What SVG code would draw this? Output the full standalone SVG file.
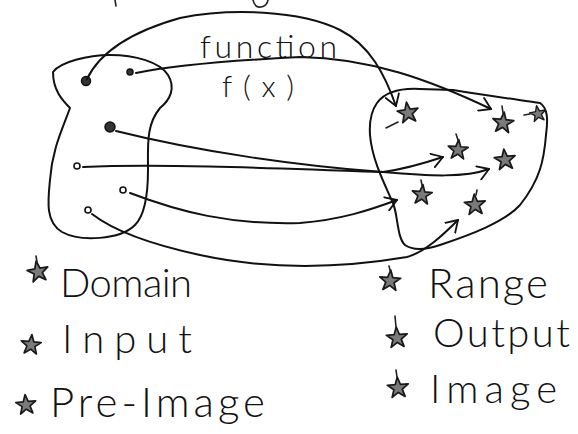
<svg xmlns="http://www.w3.org/2000/svg" width="578" height="434" viewBox="0 0 578 434">
<style>
.ink{fill:none;stroke:#111;stroke-width:2;stroke-linecap:round;stroke-linejoin:round}
.thin{fill:none;stroke:#222;stroke-width:1.6;stroke-linecap:round}
.dot{fill:#333;stroke:#111;stroke-width:1.5}
.hole{fill:#fff;stroke:#111;stroke-width:1.6}
.star{fill:#7a7a7a;stroke:#1a1a1a;stroke-width:1.6;stroke-linejoin:round}
.lbl{font-family:Lato,"Liberation Sans","DejaVu Sans",sans-serif;font-weight:300;fill:#111}
</style>
<defs>
<marker id="v" viewBox="-12 -8 14 16" markerWidth="14" markerHeight="16" refX="0" refY="0" orient="auto" markerUnits="userSpaceOnUse">
<path d="M-11,-7 L0,0 L-11,7" fill="none" stroke="#111" stroke-width="1.8" stroke-linecap="round" stroke-linejoin="round"/>
</marker>
<path id="st" d="M0,-10 L2.35,-3.24 L9.51,-3.09 L3.8,1.24 L5.88,8.09 L0,4 L-5.88,8.09 L-3.8,1.24 L-9.51,-3.09 L-2.35,-3.24 Z"/>
</defs>
<rect width="578" height="434" fill="#fff"/>

<!-- cut-off pen fragments at the top edge -->
<path class="thin" d="M115,0 L116,6"/>
<path class="thin" d="M253,0 Q255,8 261,7 Q267,6 268,0"/>

<g id="domain">
<path class="ink" d="M53,72 C60,62 88,55 110,55 C135,55 160,62 168,75 C176,88 170,100 160,108 C146,125 148,145 148,170 C148,195 145,215 135,225 C120,240 80,242 62,232 C45,222 48,200 50,180 C52,150 62,130 70,108 C62,100 53,90 53,72 Z"/>
<circle class="dot" cx="86" cy="81" r="4.5"/>
<circle class="dot" cx="130" cy="72" r="3"/>
<circle class="dot" cx="110" cy="127" r="5"/>
<circle class="hole" cx="77" cy="166" r="3"/>
<circle class="hole" cx="123" cy="190" r="3"/>
<circle class="hole" cx="88" cy="210" r="3"/>
</g>

<g id="range">
<path class="ink" d="M377,103 C385,92 400,88 420,89 L453,90 C490,96 520,100 540,103 C548,108 548,120 546,135 C544,160 540,180 520,205 C505,222 470,235 440,245 C425,250 412,250 405,245 C397,238 398,215 393,203 C385,185 372,160 370,135 C369,120 372,110 377,103 Z"/>
<g transform="translate(408,113) rotate(-8) scale(1.1)"><use href="#st" class="star"/></g>
<path class="thin" d="M398,122 L386,128"/>
<g transform="translate(503,123) rotate(6) scale(1.1)"><use href="#st" class="star"/></g>
<path class="thin" d="M503,113 L502,106"/>
<g transform="translate(538,114) rotate(-10) scale(0.85)"><use href="#st" class="star"/></g>
<path class="thin" d="M530,114 L524,115"/>
<g transform="translate(458,150) rotate(4) scale(1.05)"><use href="#st" class="star"/></g>
<path class="thin" d="M458,140 L456,134"/>
<g transform="translate(505,160) rotate(-6) scale(1.1)"><use href="#st" class="star"/></g>
<g transform="translate(422,195) rotate(5) scale(1.05)"><use href="#st" class="star"/></g>
<path class="thin" d="M422,185 L421,180"/>
<g transform="translate(475,205) rotate(-4) scale(1.1)"><use href="#st" class="star"/></g>
<path class="thin" d="M476,195 L477,190"/>
</g>

<g id="connectors">
<path class="ink" marker-end="url(#v)" d="M87,79 C100,52 130,32 180,18 C230,8 300,10 340,30 C370,45 385,75 396,106"/>
<path class="ink" marker-end="url(#v)" d="M136,73 C160,68 200,62 300,57 C370,58 430,80 491,109"/>
<path class="ink" marker-end="url(#v)" d="M116,131 C200,152 300,166 383,172 C430,176 465,178 489,169"/>
<path class="ink" marker-end="url(#v)" d="M83,167 C150,164 250,167 383,172 C405,169 425,163 443,157"/>
<path class="ink" marker-end="url(#v)" d="M130,193 C180,212 230,225 300,223 C340,220 370,210 397,200"/>
<path class="ink" marker-end="url(#v)" d="M92,214 C110,228 140,242 200,255 C260,268 330,270 407,257 C425,252 443,235 458,220"/>
</g>

<g id="function-label">
<text class="lbl" x="200" y="58" font-size="32" textLength="137" lengthAdjust="spacing">function</text>
<text class="lbl" x="222" y="97" font-size="30" textLength="72" lengthAdjust="spacing">f(x)</text>
</g>

<g id="legend-left">
<g transform="translate(38,272) rotate(-10) scale(1.1)"><use href="#st" class="star"/></g>
<path class="thin" d="M37,262 L36,256"/>
<text class="lbl" x="60" y="297" font-size="40" textLength="132" lengthAdjust="spacing">Domain</text>
<g transform="translate(31,345) rotate(5) scale(1.05)"><use href="#st" class="star"/></g>
<text class="lbl" x="62" y="353" font-size="40" textLength="130" lengthAdjust="spacing">Input</text>
<g transform="translate(26,405) rotate(-5) scale(1.05)"><use href="#st" class="star"/></g>
<text class="lbl" x="50" y="417" font-size="42" textLength="215" lengthAdjust="spacing">Pre-Image</text>
</g>

<g id="legend-right">
<g transform="translate(390,281) rotate(4) scale(1.1)"><use href="#st" class="star"/></g>
<path class="thin" d="M390,270 L389,266"/>
<text class="lbl" x="428" y="298" font-size="42" textLength="120" lengthAdjust="spacing">Range</text>
<g transform="translate(397,338) rotate(-4) scale(1.1)"><use href="#st" class="star"/></g>
<path class="thin" d="M396,327 L395,316"/>
<text class="lbl" x="433" y="347" font-size="40" textLength="137" lengthAdjust="spacing">Output</text>
<g transform="translate(398,388) rotate(-4) scale(1.1)"><use href="#st" class="star"/></g>
<path class="thin" d="M397,377 L396,370"/>
<text class="lbl" x="430" y="403" font-size="40" textLength="127" lengthAdjust="spacing">Image</text>
</g>
</svg>
